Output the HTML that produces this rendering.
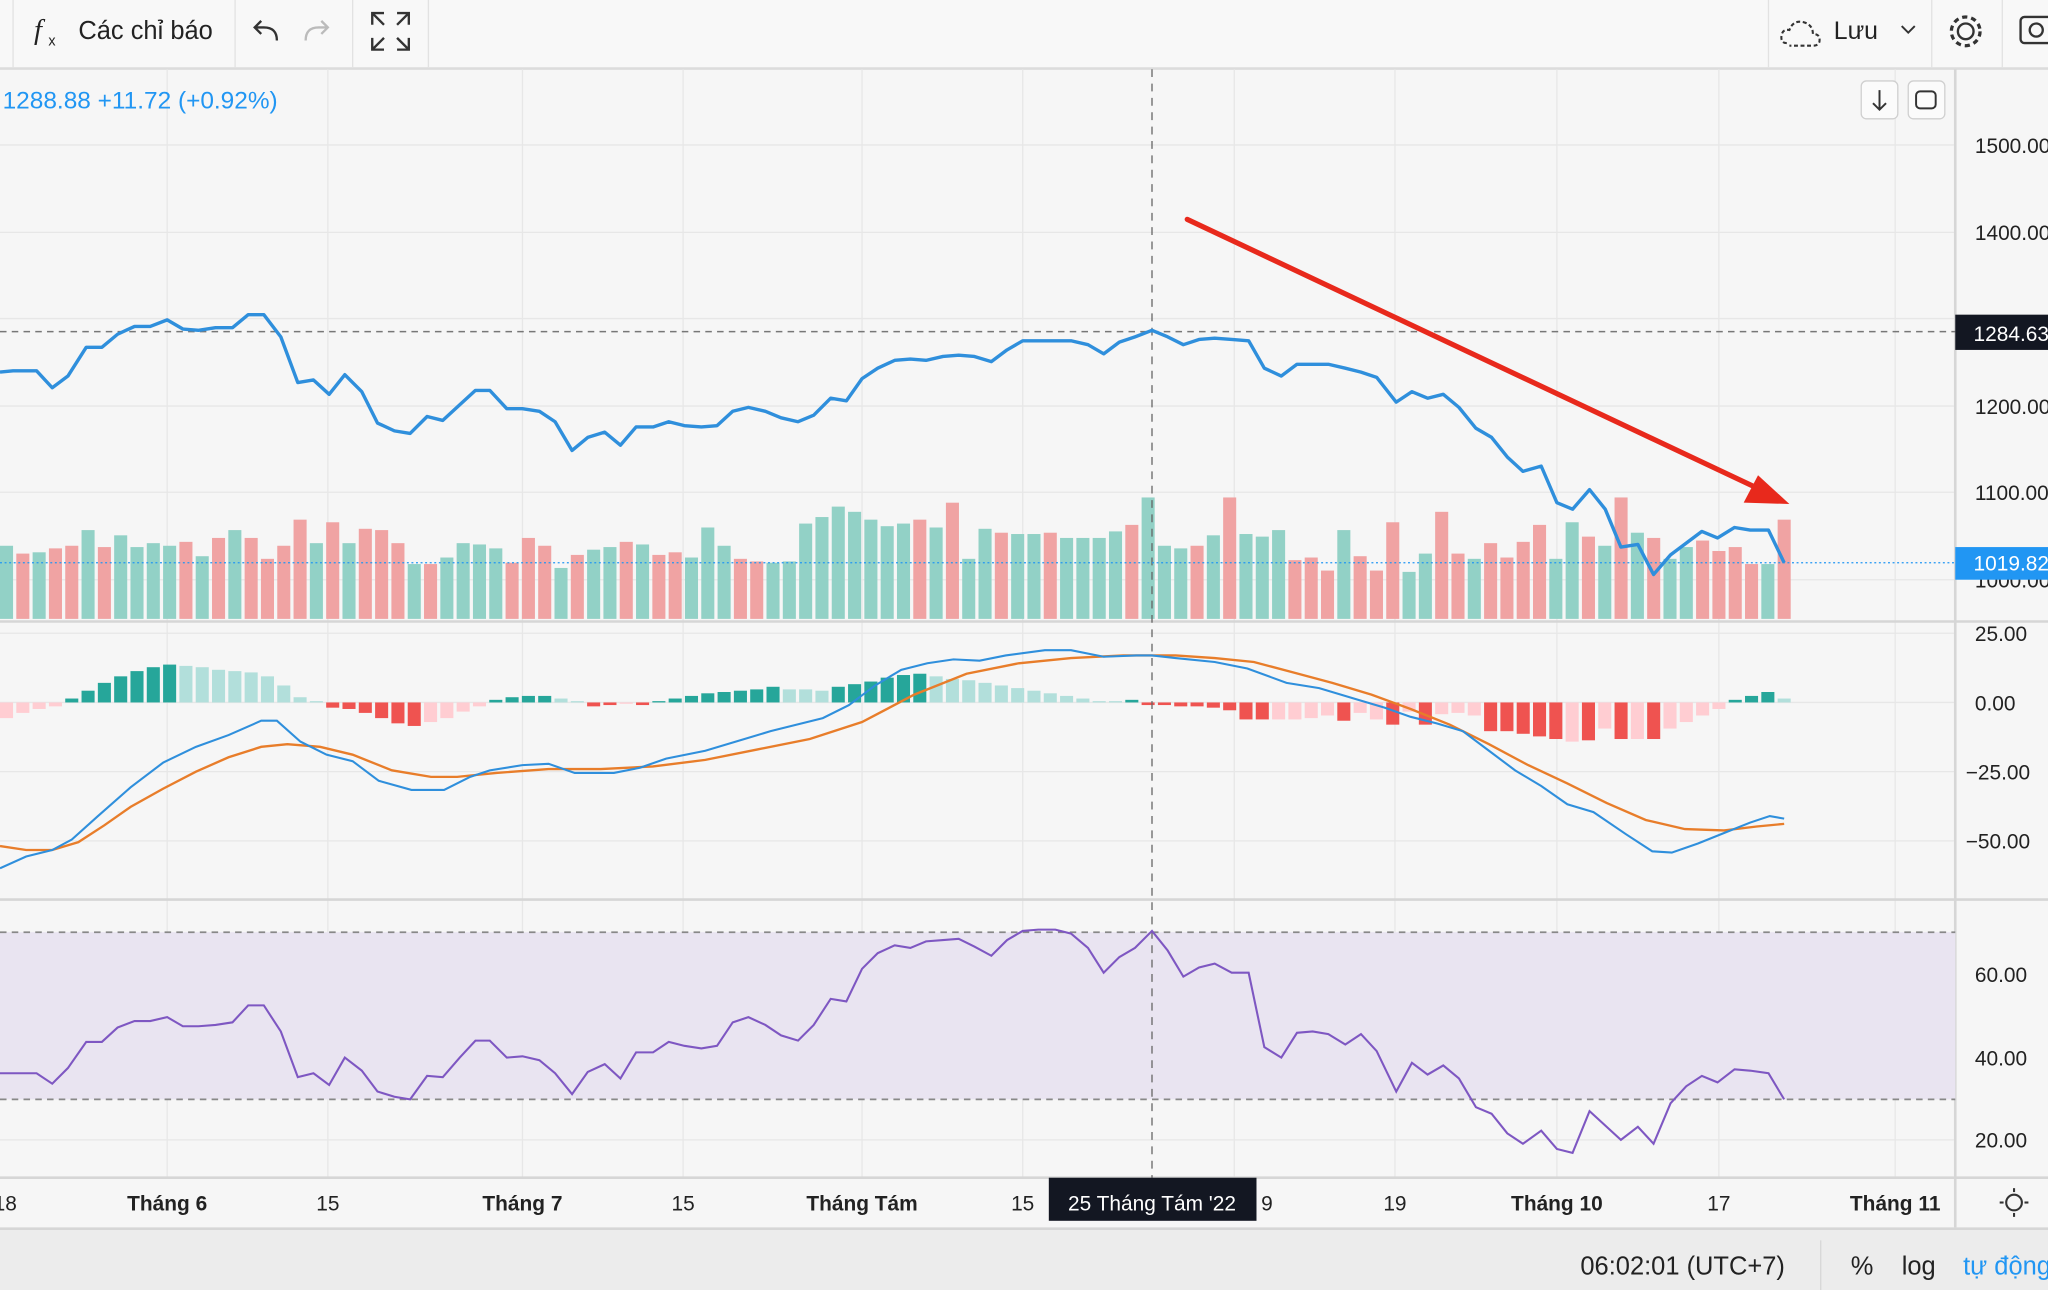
<!DOCTYPE html>
<html><head><meta charset="utf-8">
<style>
html,body{margin:0;padding:0;background:#f6f6f6;}
svg{display:block;font-family:"Liberation Sans","Noto Sans CJK SC",sans-serif;}
</style></head>
<body>
<svg id="s" width="2048" height="1290" viewBox="0 0 1568 988" preserveAspectRatio="none" xmlns="http://www.w3.org/2000/svg">
<rect x="0" y="0" width="1568" height="988" fill="#f6f6f6"/>
<rect x="0" y="0" width="1568" height="52" fill="#f8f8f8"/>
<line x1="0" y1="52.5" x2="1568" y2="52.5" stroke="#dcdcdc" stroke-width="2"/>
<g stroke="#e2e2e2"><line x1="10" y1="0" x2="10" y2="52"/><line x1="180" y1="0" x2="180" y2="52"/><line x1="270" y1="0" x2="270" y2="52"/><line x1="328" y1="0" x2="328" y2="52"/><line x1="1354" y1="0" x2="1354" y2="52"/><line x1="1479" y1="0" x2="1479" y2="52"/><line x1="1533" y1="0" x2="1533" y2="52"/></g>
<text x="26" y="30" font-size="22" font-style="italic" font-family="Liberation Serif,serif" fill="#222">f</text><text x="37" y="35" font-size="11" fill="#222">x</text>
<text x="60" y="30" font-size="19.5" fill="#222">Các chỉ báo</text>
<path d="M212 31 q0 -10 -10 -10 h-6 m4 -5 l-5 5 l5 5" fill="none" stroke="#333" stroke-width="1.8"/>
<path d="M234 31 q0 -10 10 -10 h6 m-4 -5 l5 5 l-5 5" fill="none" stroke="#bbb" stroke-width="1.8"/>
<g fill="none" stroke="#333" stroke-width="1.8"><path d="M285 19 v-9 h9 M285 10 l9 9"/><path d="M313 19 v-9 h-9 M313 10 l-9 9"/><path d="M285 29 v9 h9 M285 38 l9 -9"/><path d="M313 29 v9 h-9 M313 38 l-9 -9"/></g>
<path d="M1368 33 q-5 0 -4 -6 q1 -5 6 -4 q3 -8 11 -6 q7 2 7 9 q6 0 5 6 q-1 3 -5 3 h-18" fill="none" stroke="#333" stroke-width="1.6" stroke-dasharray="3 2"/>
<text x="1404" y="30" font-size="19" fill="#222">Lưu</text>
<path d="M1456 20 l5 5 l5 -5" fill="none" stroke="#333" stroke-width="1.5"/>
<circle cx="1505" cy="24" r="6" fill="none" stroke="#333" stroke-width="1.8"/><circle cx="1505" cy="24" r="11" fill="none" stroke="#333" stroke-width="2.5" stroke-dasharray="4 3"/>
<rect x="1547" y="13" width="24" height="20" rx="3" fill="none" stroke="#333" stroke-width="1.8"/><circle cx="1559" cy="23" r="5" fill="none" stroke="#333" stroke-width="1.8"/>

<g stroke="#e7e7e7" stroke-width="1">
<line x1="128" y1="53" x2="128" y2="902"/><line x1="251" y1="53" x2="251" y2="902"/><line x1="400" y1="53" x2="400" y2="902"/><line x1="523" y1="53" x2="523" y2="902"/><line x1="660" y1="53" x2="660" y2="902"/><line x1="783" y1="53" x2="783" y2="902"/><line x1="945" y1="53" x2="945" y2="902"/><line x1="1068" y1="53" x2="1068" y2="902"/><line x1="1192" y1="53" x2="1192" y2="902"/><line x1="1316" y1="53" x2="1316" y2="902"/><line x1="1451" y1="53" x2="1451" y2="902"/>
<line x1="0" y1="111" x2="1497" y2="111"/><line x1="0" y1="178" x2="1497" y2="178"/><line x1="0" y1="244" x2="1497" y2="244"/><line x1="0" y1="311" x2="1497" y2="311"/><line x1="0" y1="377" x2="1497" y2="377"/><line x1="0" y1="444" x2="1497" y2="444"/>
<line x1="0" y1="485" x2="1497" y2="485"/><line x1="0" y1="538" x2="1497" y2="538"/><line x1="0" y1="591" x2="1497" y2="591"/><line x1="0" y1="644" x2="1497" y2="644"/>
<line x1="0" y1="746" x2="1497" y2="746"/><line x1="0" y1="810" x2="1497" y2="810"/><line x1="0" y1="873" x2="1497" y2="873"/>
</g>
<g stroke="#d6d6d6" stroke-width="2"><line x1="0" y1="476" x2="1568" y2="476"/><line x1="0" y1="689" x2="1568" y2="689"/><line x1="0" y1="902" x2="1568" y2="902"/><line x1="1497" y1="53" x2="1497" y2="940"/></g>
<rect x="0" y="714" width="1497" height="128" fill="#e9e4f1"/>
<g stroke="#888" stroke-width="1.3" stroke-dasharray="5 4"><line x1="0" y1="714" x2="1497" y2="714"/><line x1="0" y1="842" x2="1497" y2="842"/></g>

<g id="vol"></g>
<g id="hist"></g>

<line x1="882" y1="53" x2="882" y2="902" stroke="#666" stroke-width="1" stroke-dasharray="6 5"/>
<line x1="0" y1="254" x2="1497" y2="254" stroke="#777" stroke-width="1.2" stroke-dasharray="5 4"/>
<line x1="0" y1="431" x2="1497" y2="431" stroke="#2196f3" stroke-width="1" stroke-dasharray="1.5 2"/>

<polyline fill="none" stroke="#2f8fdc" stroke-width="2.6" stroke-linejoin="round" points="0,285 10,284 28,284 40,297 52,288 66,266 78,266 90,256 103,250 115,250 128,245 140,252 152,253 165,251 178,251 190,241 202,241 215,258 228,293 240,291 252,302 264,287 277,300 289,324 302,330 314,332 327,319 339,322 352,310 364,299 375,299 388,313 400,313 413,315 425,323 438,345 450,335 463,331 475,341 487,327 500,327 512,323 524,326 537,327 549,326 561,315 573,312 586,315 598,320 611,323 623,318 636,305 648,307 660,290 672,282 685,276 697,275 709,276 722,273 734,272 746,273 759,277 771,268 783,261 795,261 808,261 820,261 833,264 845,271 857,262 869,258 882,253 894,258 906,264 918,260 930,259 943,260 956,261 968,282 981,288 993,279 1005,279 1017,279 1030,282 1042,285 1054,289 1069,308 1081,300 1093,305 1105,302 1117,312 1130,328 1142,335 1154,350 1166,361 1180,357 1192,385 1204,390 1217,375 1229,390 1241,419 1254,417 1266,440 1279,425 1291,416 1303,407 1315,412 1328,404 1340,406 1354,406 1366,431"/>

<polyline fill="none" stroke="#e87d2a" stroke-width="1.8" points="0,648 20,651 40,651 60,645 80,632 100,618 125,604 150,591 175,580 200,572 220,570 245,572 270,578 300,590 330,595 350,595 380,592 420,589 460,589 500,587 540,582 580,574 620,566 660,553 700,532 740,516 780,508 820,504 860,502 900,502 930,504 960,507 990,515 1020,523 1050,532 1080,543 1110,555 1140,570 1170,586 1200,600 1230,615 1260,628 1290,635 1320,636 1345,633 1366,631"/>
<polyline fill="none" stroke="#2f8fdc" stroke-width="1.6" points="0,665 20,656 40,651 55,643 75,625 100,603 125,584 150,572 175,563 200,552 212,552 230,568 250,578 270,583 290,598 315,605 340,605 360,595 375,590 400,586 420,585 440,592 470,592 490,588 510,581 540,575 570,566 590,560 610,555 630,550 650,540 670,525 690,513 710,508 730,505 750,506 770,502 800,498 820,498 845,503 870,502 882,502 900,504 930,507 955,512 985,523 1010,527 1040,536 1060,542 1080,549 1100,554 1120,560 1140,575 1160,590 1180,602 1200,616 1220,622 1245,639 1265,652 1280,653 1300,646 1320,638 1340,630 1355,625 1366,627"/>

<polyline fill="none" stroke="#7e57c2" stroke-width="1.6" points="0,822 10,822 28,822 40,830 52,818 66,798 78,798 90,787 103,782 115,782 128,779 140,786 152,786 165,785 178,783 190,770 202,770 215,790 228,825 240,822 252,831 264,810 277,820 289,836 302,840 314,842 327,824 339,825 352,810 364,797 375,797 388,810 400,809 413,812 425,822 438,838 450,821 463,815 475,826 487,806 500,806 512,798 524,801 537,803 549,801 561,783 573,779 586,785 598,793 611,797 623,785 636,765 648,767 660,742 672,730 685,724 697,726 709,721 722,720 734,719 746,725 759,732 771,720 783,713 795,712 808,712 820,715 833,726 845,745 857,733 869,726 882,713 894,728 906,748 918,741 930,738 943,745 956,745 968,802 981,810 993,791 1005,790 1017,792 1030,800 1042,792 1054,805 1069,836 1081,814 1093,823 1105,816 1117,826 1130,848 1142,853 1154,868 1166,876 1180,866 1192,880 1204,883 1217,851 1229,862 1241,873 1254,863 1266,876 1279,845 1291,832 1303,824 1315,829 1328,819 1340,820 1354,822 1366,842"/>

<line x1="909" y1="168" x2="1350" y2="376" stroke="#e8291c" stroke-width="4" stroke-linecap="round"/>
<polygon points="1370,386 1335,385 1346,364" fill="#e8291c"/>

<text x="2" y="83" font-size="18.7" fill="#2196f3">1288.88  +11.72 (+0.92%)</text>
<rect x="1425" y="62" width="28" height="29" rx="4" fill="#fbfbfb" stroke="#d0d0d0"/>
<path d="M1439 69 v15 m-5 -5 l5 5 l5 -5" fill="none" stroke="#333" stroke-width="1.5"/>
<rect x="1461" y="62" width="28" height="29" rx="4" fill="#fbfbfb" stroke="#d0d0d0"/>
<rect x="1467" y="70" width="15" height="13" rx="3" fill="none" stroke="#333" stroke-width="1.5"/>

<g font-size="16" fill="#222">
<text x="1512" y="117">1500.00</text><text x="1512" y="184">1400.00</text><text x="1512" y="317">1200.00</text><text x="1512" y="383">1100.00</text><text x="1512" y="450">1000.00</text>
<text x="1512" y="491">25.00</text><text x="1512" y="544">0.00</text><text x="1505" y="597">−25.00</text><text x="1505" y="650">−50.00</text>
<text x="1512" y="752">60.00</text><text x="1512" y="816">40.00</text><text x="1512" y="879">20.00</text>
</g>
<rect x="1497" y="241" width="71" height="27" fill="#131722"/>
<text x="1511" y="261" font-size="16" fill="#fff">1284.63</text>
<rect x="1497" y="419" width="71" height="25" fill="#2196f3"/>
<text x="1511" y="437" font-size="16" fill="#fff">1019.82</text>

<g font-size="16" fill="#222" text-anchor="middle">
<text x="4" y="927">18</text><text x="128" y="927" font-weight="bold">Tháng 6</text><text x="251" y="927">15</text><text x="400" y="927" font-weight="bold">Tháng 7</text><text x="523" y="927">15</text><text x="660" y="927" font-weight="bold">Tháng Tám</text><text x="783" y="927">15</text><text x="970" y="927">9</text><text x="1068" y="927">19</text><text x="1192" y="927" font-weight="bold">Tháng 10</text><text x="1316" y="927">17</text><text x="1451" y="927" font-weight="bold">Tháng 11</text>
</g>
<rect x="803" y="902" width="159" height="33" fill="#131722"/>
<text x="882" y="927" font-size="16" fill="#fff" text-anchor="middle">25 Tháng Tám '22</text>
<circle cx="1542" cy="921" r="6" fill="none" stroke="#333" stroke-width="1.6"/>
<g stroke="#333" stroke-width="1.6"><line x1="1542" y1="910" x2="1542" y2="913"/><line x1="1542" y1="929" x2="1542" y2="932"/><line x1="1531" y1="921" x2="1534" y2="921"/><line x1="1550" y1="921" x2="1553" y2="921"/></g>

<rect x="0" y="941" width="1568" height="47" fill="#ececec"/>
<line x1="0" y1="941" x2="1568" y2="941" stroke="#d6d6d6" stroke-width="2"/>
<line x1="1394" y1="950" x2="1394" y2="988" stroke="#d6d6d6"/>
<text x="1210" y="976" font-size="19.5" fill="#222">06:02:01 (UTC+7)</text>
<text x="1417" y="976" font-size="19.5" fill="#222">%</text>
<text x="1456" y="976" font-size="19.5" fill="#222">log</text>
<text x="1503" y="976" font-size="19.5" fill="#2196f3">tự động</text>
</svg>
<script>
var NS="http://www.w3.org/2000/svg";
var vol=[[418,'g'],[424,'r'],[423,'g'],[420,'r'],[418,'r'],[406,'g'],[419,'r'],[410,'g'],[419,'g'],[416,'g'],[418,'g'],[415,'r'],[426,'g'],[412,'r'],[406,'g'],[412,'r'],[428,'r'],[418,'r'],[398,'r'],[416,'g'],[400,'r'],[416,'g'],[405,'r'],[406,'r'],[416,'r'],[432,'g'],[432,'r'],[427,'g'],[416,'g'],[417,'g'],[420,'g'],[431,'r'],[412,'r'],[418,'r'],[435,'g'],[425,'r'],[421,'g'],[419,'g'],[415,'r'],[417,'g'],[425,'r'],[423,'r'],[427,'g'],[404,'g'],[418,'g'],[428,'r'],[430,'r'],[431,'g'],[430,'g'],[401,'g'],[396,'g'],[388,'g'],[392,'g'],[398,'g'],[403,'g'],[401,'g'],[398,'r'],[404,'g'],[385,'r'],[428,'g'],[405,'g'],[408,'r'],[409,'g'],[409,'g'],[408,'r'],[412,'g'],[412,'g'],[412,'g'],[407,'g'],[402,'r'],[381,'g'],[418,'g'],[420,'g'],[418,'r'],[410,'g'],[381,'r'],[409,'g'],[411,'g'],[406,'g'],[429,'r'],[427,'r'],[437,'r'],[406,'g'],[426,'r'],[437,'r'],[400,'r'],[438,'g'],[424,'g'],[392,'r'],[424,'r'],[428,'g'],[416,'r'],[427,'r'],[415,'r'],[402,'r'],[428,'g'],[400,'g'],[411,'r'],[418,'g'],[381,'r'],[408,'g'],[412,'r'],[428,'g'],[419,'g'],[414,'r'],[422,'r'],[419,'r'],[432,'r'],[432,'g'],[398,'r']];
var n=vol.length, sp=(1366-5)/(n-1), g=document.getElementById('vol');
for(var i=0;i<n;i++){var r=document.createElementNS(NS,'rect');var x=5+sp*i;r.setAttribute('x',x-5);r.setAttribute('width',10);r.setAttribute('y',vol[i][0]);r.setAttribute('height',474-vol[i][0]);r.setAttribute('fill',vol[i][1]=='g'?'#92d1c6':'#f0a3a3');g.appendChild(r);}
var h=[[-12,'P'],[-8,'P'],[-5,'P'],[-3,'P'],[3,'D'],[9,'D'],[15,'D'],[20,'D'],[24,'D'],[27,'D'],[29,'D'],[28,'L'],[27,'L'],[25,'L'],[24,'L'],[23,'L'],[20,'L'],[13,'L'],[4,'L'],[1,'L'],[-4,'R'],[-5,'R'],[-8,'R'],[-12,'R'],[-16,'R'],[-18,'R'],[-15,'P'],[-12,'P'],[-7,'P'],[-3,'P'],[2,'D'],[4,'D'],[5,'D'],[5,'D'],[3,'L'],[1,'L'],[-3,'R'],[-2,'R'],[-1,'P'],[-2,'R'],[1,'D'],[3,'D'],[5,'D'],[7,'D'],[8,'D'],[9,'D'],[10,'D'],[12,'D'],[10,'L'],[10,'L'],[9,'L'],[12,'D'],[14,'D'],[16,'D'],[19,'D'],[21,'D'],[22,'D'],[20,'L'],[18,'L'],[17,'L'],[15,'L'],[13,'L'],[11,'L'],[9,'L'],[7,'L'],[5,'L'],[3,'L'],[1,'L'],[1,'L'],[2,'D'],[-2,'R'],[-2,'R'],[-3,'R'],[-3,'R'],[-4,'R'],[-6,'R'],[-13,'R'],[-13,'R'],[-13,'P'],[-13,'P'],[-12,'P'],[-10,'P'],[-14,'R'],[-8,'P'],[-13,'P'],[-17,'R'],[-7,'P'],[-17,'R'],[-9,'P'],[-8,'P'],[-10,'P'],[-22,'R'],[-22,'R'],[-24,'R'],[-26,'R'],[-28,'R'],[-30,'P'],[-29,'R'],[-20,'P'],[-28,'R'],[-28,'P'],[-28,'R'],[-20,'P'],[-15,'P'],[-10,'P'],[-5,'P'],[2,'D'],[5,'D'],[8,'D'],[3,'L']];
var c={D:'#26a69a',L:'#b2dfdb',R:'#ef5350',P:'#ffcdd2'},m=h.length,sp2=(1366-5)/(m-1),g2=document.getElementById('hist');
for(var j=0;j<m;j++){var v=h[j][0];var r2=document.createElementNS(NS,'rect');var x2=5+sp2*j;r2.setAttribute('x',x2-5);r2.setAttribute('width',10);r2.setAttribute('y',v>0?538-v:538);r2.setAttribute('height',Math.abs(v));r2.setAttribute('fill',c[h[j][1]]);g2.appendChild(r2);}
</script>
</body></html>
